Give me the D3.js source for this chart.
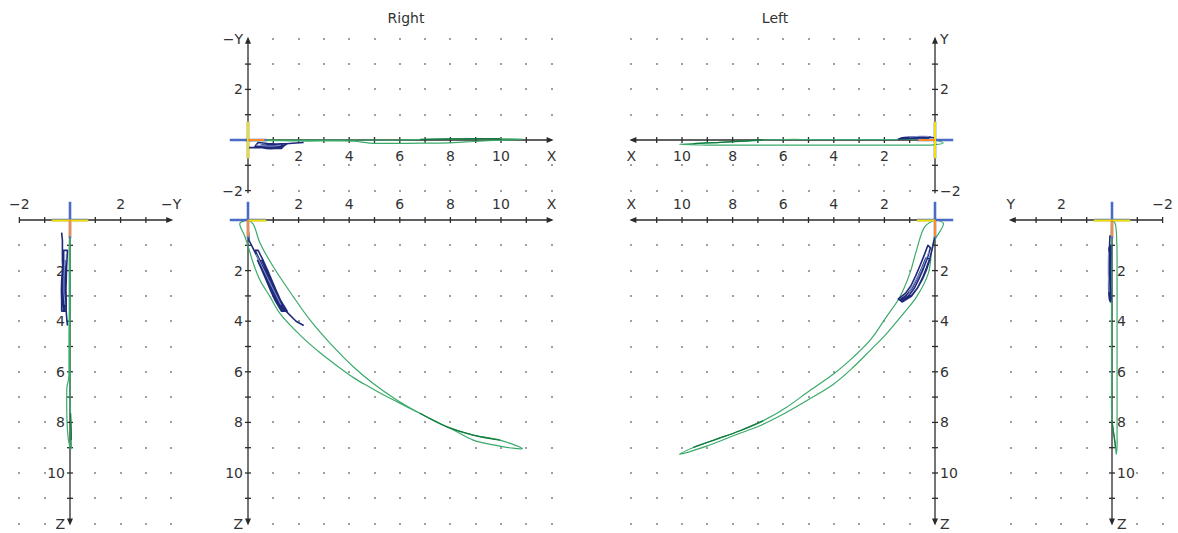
<!DOCTYPE html>
<html>
<head>
<meta charset="utf-8">
<script src="https://cdn.jsdelivr.net/npm/d3@7"></script>
<style>
  body { margin: 0; background: #fff; }
  svg { display: block; }
  text { font-family: "DejaVu Sans", Verdana, sans-serif; font-size: 14px; fill: #333; }
</style>
</head>
<body>
<svg id="chart" width="1178" height="533"></svg>
<script>
// ---------------- data ----------------
const sideTitles = ["Right", "Left"];
const lengthTicks = [2, 4, 6, 8, 10];      // labelled ticks on X
const depthTicks = [2, 4, 6, 8, 10];       // labelled ticks on Z
const lateralTicks = [-2, 2];              // labelled ticks on the Y axes

// trajectories as [X, Y, Z] samples
const rightGreen = [
  [0, 0, 0], [0.2, 0, 0.15], [0.47, 0, 0.9], [1.0, 0, 1.85], [1.79, 0, 3.03],
  [2.45, 0, 3.95], [3.24, 0, 4.87], [4.16, 0, 5.8], [4.95, 0, 6.46], [5.88, 0, 7.11],
  [6.8, -0.02, 7.64], [7.85, -0.04, 8.17], [8.9, -0.05, 8.5], [9.96, -0.05, 8.7], [10.85, -0.04, 9.04],
  [10.49, 0, 9.02], [9.7, 0.02, 8.89], [8.9, 0.06, 8.7], [8.12, 0.1, 8.3], [7.32, 0.12, 7.91],
  [6.27, 0.13, 7.38], [5.48, 0.13, 6.98], [4.8, 0.12, 6.6], [4.2, 0.05, 6.25], [3.5, 0.04, 5.75],
  [2.85, 0.04, 5.25], [2.06, 0.04, 4.55], [1.26, 0.03, 3.69], [0.87, 0.03, 3.03], [0.47, 0.03, 2.37],
  [0.21, 0.03, 1.71], [0.01, 0.03, 1.05], [-0.12, 0.02, 0.66], [-0.32, 0.01, 0.13], [-0.1, 0, 0.02], [0, 0, 0]
];
const rightGreenDark = [
  [6.8, -0.02, 7.64], [7.85, -0.04, 8.17], [8.9, -0.05, 8.5], [9.96, -0.05, 8.7]
];
const rightNavy = [
  [0.02, 0.33, 0.5], [0.04, 0.3, 0.8], [0.24, 0.3, 1.2], [0.44, 0.3, 1.6], [0.62, 0.28, 2.0],
  [0.79, 0.3, 2.4], [0.96, 0.3, 2.8], [1.14, 0.28, 3.2], [1.38, 0.25, 3.6],
  [1.55, 0.15, 3.6], [1.3, 0.15, 3.2], [1.12, 0.16, 2.8], [0.95, 0.15, 2.4], [0.78, 0.14, 2.0],
  [0.6, 0.12, 1.6], [0.4, 0.1, 1.2],
  [0.28, 0.25, 1.2], [0.47, 0.25, 1.6], [0.66, 0.26, 2.0], [0.83, 0.25, 2.4], [1.0, 0.25, 2.8],
  [1.18, 0.24, 3.2], [1.43, 0.22, 3.6],
  [1.32, 0.33, 3.6], [1.08, 0.33, 3.2], [0.9, 0.34, 2.8], [0.73, 0.33, 2.4], [0.56, 0.3, 2.0],
  [0.38, 0.28, 1.6],
  [0.55, 0.2, 1.6], [0.73, 0.2, 2.0], [0.9, 0.2, 2.4], [1.07, 0.2, 2.8], [1.25, 0.18, 3.2],
  [1.5, 0.15, 3.6], [1.9, 0.12, 4.0], [2.2, 0.1, 4.17]
];
const rightLight = [
  [0.32, 0.2, 1.35], [0.56, 0.22, 1.85], [0.8, 0.24, 2.35], [1.05, 0.24, 2.85], [1.3, 0.2, 3.35]
];

const leftGreen = [
  [0, 0, 0], [0.4, 0.02, 0.26], [0.73, 0.02, 1.19], [0.99, 0.02, 2.1], [1.39, 0.02, 3.04],
  [1.92, 0.02, 3.83], [2.57, 0.02, 4.76], [3.23, 0.02, 5.42], [4.0, 0.02, 6.08], [4.96, 0.02, 6.75],
  [5.88, 0.02, 7.41], [6.8, 0, 7.94], [7.71, -0.05, 8.33], [8.63, -0.1, 8.66], [9.55, -0.14, 8.99],
  [10.1, -0.17, 9.26], [9.0, -0.2, 8.93], [7.97, -0.2, 8.53], [6.92, -0.2, 8.13], [5.99, -0.2, 7.67],
  [5.07, -0.2, 7.14], [4.0, -0.2, 6.48], [3.23, -0.2, 5.82], [2.57, -0.2, 5.16], [1.92, -0.2, 4.5],
  [1.25, -0.2, 3.7], [0.73, -0.2, 3.04], [0.26, -0.2, 2.1], [0.07, -0.19, 0.92], [-0.33, -0.12, 0.13], [0, 0, 0]
];
const leftGreenDark = [
  [6.8, 0, 7.94], [7.71, -0.05, 8.33], [8.63, -0.1, 8.66], [9.55, -0.14, 8.99]
];
const leftNavy = [
  [0.0, 0.08, 0.6], [0.1, 0.1, 1.1], [0.2, 0.1, 1.5], [0.34, 0.1, 1.9], [0.5, 0.1, 2.3],
  [0.7, 0.09, 2.7], [0.94, 0.08, 3.02], [1.3, 0.06, 3.24],
  [1.45, 0.04, 3.12], [1.17, 0.05, 2.9], [0.95, 0.06, 2.6], [0.76, 0.06, 2.2], [0.59, 0.06, 1.8],
  [0.43, 0.05, 1.4], [0.28, 0.05, 1.0],
  [0.18, 0.12, 1.1], [0.3, 0.12, 1.5], [0.45, 0.12, 1.9], [0.62, 0.12, 2.3], [0.82, 0.11, 2.7],
  [1.05, 0.1, 3.0], [1.35, 0.08, 3.2],
  [1.22, 0.1, 3.14], [0.93, 0.12, 2.98], [0.7, 0.13, 2.7], [0.5, 0.13, 2.35], [0.33, 0.12, 1.95],
  [0.2, 0.1, 1.55],
  [0.36, 0.07, 1.5], [0.52, 0.07, 1.9], [0.7, 0.07, 2.3], [0.9, 0.07, 2.68], [1.14, 0.06, 2.98], [1.42, 0.05, 3.18]
];
const leftLight = [
  [0.24, 0.14, 1.25], [0.42, 0.15, 1.7], [0.6, 0.15, 2.1], [0.82, 0.13, 2.5], [1.02, 0.12, 2.85]
];

// ---------------- layout ----------------
const UNIT = 25.3;
const COLORS = {
  axis: "#2b2b2b", dot: "#555", green: "#3aaa6a", greenDark: "#127a3c",
  navy: "#1f2a7a", light: "#8d9ad6", cross: "#4b6cc4", yellow: "#f2e000", orange: "#ff8a2a"
};
const fmt = v => (v < 0 ? "\u2212" + Math.abs(v) : String(v));
const range = (a, b) => d3.range(a, b + 1).filter(v => v !== 0);

// Each view: origin, direction of its axes, which coordinates it shows
const views = [
  { ox: 248, oy: 140, hDir: 1, vDir: -1, h: [0, 12], v: [-2.1, 4],
    hVal: p => p[0], vVal: p => -p[1], hName: "X", vName: "\u2212Y",
    hTicks: lengthTicks, vTicks: lateralTicks, hSide: "below", vSide: "left",
    cols: range(1, 12), rows: range(-2, 4), yellow: "v", series: "right" },
  { ox: 248, oy: 220, hDir: 1, vDir: 1, h: [0, 12], v: [0, 12],
    hVal: p => p[0], vVal: p => p[2], hName: "X", vName: "Z",
    hTicks: lengthTicks, vTicks: depthTicks, hSide: "above", vSide: "left",
    cols: range(1, 12), rows: range(1, 12), yellow: "h+", series: "right" },
  { ox: 70, oy: 220, hDir: 1, vDir: 1, h: [-2, 4], v: [0, 12],
    hVal: p => -p[1], vVal: p => p[2], hName: "\u2212Y", vName: "Z",
    hTicks: lateralTicks, vTicks: depthTicks, hSide: "above", vSide: "left",
    cols: range(-2, 4), rows: range(1, 12), yellow: "h", series: "right" },
  { ox: 935, oy: 140, hDir: -1, vDir: -1, h: [0, 12], v: [-2.1, 4],
    hVal: p => p[0], vVal: p => p[1], hName: "X", vName: "Y",
    hTicks: lengthTicks, vTicks: lateralTicks, hSide: "below", vSide: "right",
    cols: range(1, 12), rows: range(-2, 4), yellow: "v", series: "left" },
  { ox: 935, oy: 220, hDir: -1, vDir: 1, h: [0, 12], v: [0, 12],
    hVal: p => p[0], vVal: p => p[2], hName: "X", vName: "Z",
    hTicks: lengthTicks, vTicks: depthTicks, hSide: "above", vSide: "right",
    cols: range(1, 12), rows: range(1, 12), yellow: "h+", series: "left" },
  { ox: 1112, oy: 220, hDir: -1, vDir: 1, h: [-2, 4], v: [0, 12],
    hVal: p => p[1], vVal: p => p[2], hName: "Y", vName: "Z",
    hTicks: lateralTicks, vTicks: depthTicks, hSide: "above", vSide: "right",
    cols: range(-2, 4), rows: range(1, 12), yellow: "h", series: "left" }
];

const seriesSets = {
  right: [
    { data: rightGreen, color: COLORS.green, width: 1.2, smooth: true },
    { data: rightGreenDark, color: COLORS.greenDark, width: 1.3, smooth: true },
    { data: rightNavy, color: COLORS.navy, width: 1.6, smooth: false },
    { data: rightLight, color: COLORS.light, width: 1, smooth: false }
  ],
  left: [
    { data: leftGreen, color: COLORS.green, width: 1.2, smooth: true },
    { data: leftGreenDark, color: COLORS.greenDark, width: 1.3, smooth: true },
    { data: leftNavy, color: COLORS.navy, width: 1.6, smooth: false },
    { data: leftLight, color: COLORS.light, width: 1, smooth: false }
  ]
};

const svg = d3.select("#chart");

// titles above the two main view pairs
svg.selectAll("text.title").data(sideTitles).join("text")
  .attr("class", "title")
  .attr("x", (d, i) => i === 0 ? 406 : 775)
  .attr("y", 18).attr("dy", "0.35em")
  .attr("text-anchor", "middle").text(d => d);

function arrowPath(x, y, dx, dy) {
  // filled arrowhead with its tip at (x, y) pointing along (dx, dy)
  const L = 7, W = 3;
  const px = -dy, py = dx;
  const bx = x - dx * L, by = y - dy * L;
  return `M${x},${y}L${bx + px * W},${by + py * W}L${bx - px * W},${by - py * W}Z`;
}

views.forEach(vw => {
  const sx = d3.scaleLinear().domain([0, 1]).range([vw.ox, vw.ox + vw.hDir * UNIT]);
  const sy = d3.scaleLinear().domain([0, 1]).range([vw.oy, vw.oy + vw.vDir * UNIT]);
  const g = svg.append("g");

  // dotted grid
  const pts = [];
  vw.cols.forEach(c => vw.rows.forEach(r => pts.push([c, r])));
  g.append("g").selectAll("rect").data(pts).join("rect")
    .attr("x", d => Math.round(sx(d[0])) - 0.75)
    .attr("y", d => Math.round(sy(d[1])) - 0.75)
    .attr("width", 1.5).attr("height", 1.5)
    .attr("fill", COLORS.dot);

  // axes
  const ax = g.append("g").attr("stroke", COLORS.axis).attr("stroke-width", 1.3);
  ax.append("line").attr("x1", sx(vw.h[0])).attr("x2", sx(vw.h[1]))
    .attr("y1", vw.oy).attr("y2", vw.oy);
  ax.append("line").attr("y1", sy(vw.v[0])).attr("y2", sy(vw.v[1]))
    .attr("x1", vw.ox).attr("x2", vw.ox);
  const hTickVals = d3.range(Math.ceil(vw.h[0]), vw.h[1]).filter(v => v !== 0);
  const vTickVals = d3.range(Math.ceil(vw.v[0]), vw.v[1]).filter(v => v !== 0);
  ax.selectAll("line.ht").data(hTickVals).join("line").attr("class", "ht")
    .attr("x1", d => sx(d)).attr("x2", d => sx(d))
    .attr("y1", vw.oy - 3).attr("y2", vw.oy + 3);
  ax.selectAll("line.vt").data(vTickVals).join("line").attr("class", "vt")
    .attr("y1", d => sy(d)).attr("y2", d => sy(d))
    .attr("x1", vw.ox - 3).attr("x2", vw.ox + 3);
  g.append("path").attr("fill", COLORS.axis)
    .attr("d", arrowPath(sx(vw.h[1]) + vw.hDir * 2, vw.oy, vw.hDir, 0));
  g.append("path").attr("fill", COLORS.axis)
    .attr("d", arrowPath(vw.ox, sy(vw.v[1]) + vw.vDir * 2, 0, vw.vDir));

  // tick labels and axis names
  const hy = vw.hSide === "below" ? vw.oy + 16 : vw.oy - 16;
  const hl = vw.hTicks.map(t => ({ v: t, s: fmt(t) })).concat([{ v: vw.h[1], s: vw.hName }]);
  g.selectAll("text.hl").data(hl).join("text").attr("class", "hl")
    .attr("x", d => sx(d.v)).attr("y", hy).attr("dy", "0.35em")
    .attr("text-anchor", "middle").text(d => d.s);
  const vx = vw.vSide === "left" ? vw.ox - 5 : vw.ox + 5;
  const vl = vw.vTicks.map(t => ({ v: t, s: fmt(t) })).concat([{ v: vw.v[1], s: vw.vName }]);
  g.selectAll("text.vl").data(vl).join("text").attr("class", "vl")
    .attr("x", vx).attr("y", d => sy(d.v)).attr("dy", "0.35em")
    .attr("text-anchor", vw.vSide === "left" ? "end" : "start").text(d => d.s);

  // origin marker: blue cross with yellow and orange reference segments
  const m = g.append("g").attr("stroke-linecap", "butt");
  m.append("line").attr("x1", sx(-0.72)).attr("x2", sx(0.72)).attr("y1", vw.oy).attr("y2", vw.oy)
    .attr("stroke", COLORS.cross).attr("stroke-width", 2.6);
  m.append("line").attr("y1", sy(-0.72)).attr("y2", sy(0.72)).attr("x1", vw.ox).attr("x2", vw.ox)
    .attr("stroke", COLORS.cross).attr("stroke-width", 2.6);

  // trajectories
  const smoothLine = d3.line().curve(d3.curveCatmullRom.alpha(0.5))
    .x(p => sx(vw.hVal(p))).y(p => sy(vw.vVal(p)));
  const plainLine = d3.line().x(p => sx(vw.hVal(p))).y(p => sy(vw.vVal(p)));
  seriesSets[vw.series].forEach(s => {
    g.append("path").attr("d", (s.smooth ? smoothLine : plainLine)(s.data)).attr("fill", "none")
      .attr("stroke", s.color).attr("stroke-width", s.width)
      .attr("stroke-linejoin", "round");
  });

  if (vw.yellow === "v") {
    m.append("line").attr("y1", sy(-0.72)).attr("y2", sy(0.72)).attr("x1", vw.ox).attr("x2", vw.ox)
      .attr("stroke", COLORS.yellow).attr("stroke-width", 2);
    m.append("line").attr("x1", sx(0)).attr("x2", sx(0.65)).attr("y1", vw.oy).attr("y2", vw.oy)
      .attr("stroke", COLORS.orange).attr("stroke-width", 2);
  } else {
    const h0 = vw.yellow === "h" ? -0.72 : 0;
    m.append("line").attr("x1", sx(h0)).attr("x2", sx(0.72)).attr("y1", vw.oy + 0.5).attr("y2", vw.oy + 0.5)
      .attr("stroke", COLORS.yellow).attr("stroke-width", 2);
    m.append("line").attr("y1", sy(0)).attr("y2", sy(0.65)).attr("x1", vw.ox).attr("x2", vw.ox)
      .attr("stroke", COLORS.orange).attr("stroke-width", 2);
  }
  m.raise();
});
</script>
</body>
</html>
